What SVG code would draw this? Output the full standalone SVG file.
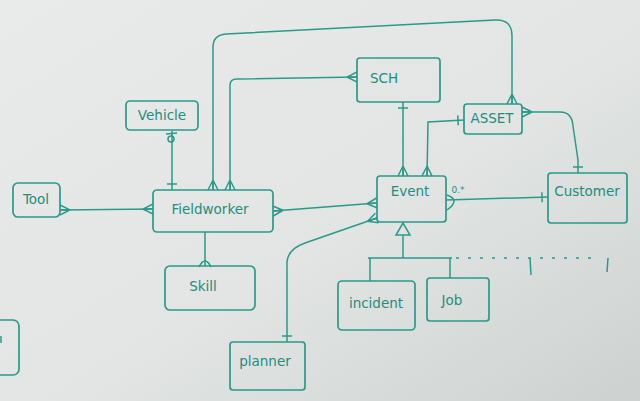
<svg xmlns="http://www.w3.org/2000/svg" width="640" height="401" viewBox="0 0 640 401">
<defs>
<linearGradient id="bg" x1="0" y1="0" x2="1" y2="1">
<stop offset="0" stop-color="#e9ebea"/>
<stop offset="0.55" stop-color="#e2e5e3"/>
<stop offset="1" stop-color="#cdd2d0"/>
</linearGradient>
<marker id="crow" viewBox="0 0 12 12" refX="11" refY="6" markerWidth="12" markerHeight="12" markerUnits="userSpaceOnUse" orient="auto-start-reverse">
<path d="M1,6 L11,1 M1,6 L11,6 M1,6 L11,11" fill="none" stroke="#2a9a8b" stroke-width="1.5"/>
</marker>
<marker id="tick" viewBox="0 0 12 12" refX="11" refY="6" markerWidth="12" markerHeight="12" markerUnits="userSpaceOnUse" orient="auto-start-reverse">
<path d="M5,1 L5,11" fill="none" stroke="#2a9a8b" stroke-width="1.5"/>
</marker>
</defs>
<style>
.box{fill:none;stroke:#2a9a8b;stroke-width:1.7}
.ln{fill:none;stroke:#2a9a8b;stroke-width:1.5}
.t{font-family:"DejaVu Sans",sans-serif;font-size:13.5px;fill:#248d7f;text-anchor:middle}
</style>
<rect width="640" height="401" fill="url(#bg)"/>

<g id="connectors">
<path class="ln" d="M60,210 L153,209" marker-start="url(#crow)" marker-end="url(#crow)"/>
<path class="ln" d="M172,131 L172,190" marker-end="url(#tick)"/>
<circle class="ln" cx="171" cy="139" r="3"/>
<path class="ln" d="M166,134 L177,133"/>
<path class="ln" d="M205,232 L205,266"/>
<path class="ln" d="M199,267 Q205,255 211,267"/>
<path class="ln" d="M213,190 L213,47 Q213,35 226,34 L495,20 Q512,19 512,36 L512,104" marker-start="url(#crow)" marker-end="url(#crow)"/>
<path class="ln" d="M230,190 L230,85 Q230,79 237,79 L357,77" marker-start="url(#crow)" marker-end="url(#crow)"/>
<path class="ln" d="M273,211 L377,203" marker-start="url(#crow)" marker-end="url(#crow)"/>
<path class="ln" d="M287,342 L287,262 Q288,249 305,243 L377,218" marker-start="url(#tick)" marker-end="url(#crow)"/>
<path class="ln" d="M403,102 L403,176" marker-start="url(#tick)" marker-end="url(#crow)"/>
<path class="ln" d="M464,120 L428,122 L427,176" marker-start="url(#tick)" marker-end="url(#crow)"/>
<path class="ln" d="M522,112 L560,112 Q572,112 573,126 L578,160 L578,173" marker-start="url(#crow)" marker-end="url(#tick)"/>
<path class="ln" d="M446,200 L548,197" marker-end="url(#tick)"/>
<path class="ln" d="M447,195 Q461,200 447,210"/>
<text class="t" x="458" y="193" style="font-size:9px">0.*</text>
<path class="ln" d="M403,223 L396,235 L410,235 Z"/>
<path class="ln" d="M403,235 L403,258 M368,258 L452,258 M370,258 L370,281 M450,258 L450,278"/>
<path class="ln" d="M456,258 L600,258" stroke-dasharray="3 9"/>
<path class="ln" d="M530,258 L531,275 M608,258 L607,272"/>
</g>

<g id="tool"><rect class="box" x="13" y="183" width="47" height="34" rx="5"/><text class="t" x="36" y="204">Tool</text></g>
<g id="vehicle"><rect class="box" x="126" y="101" width="72" height="29" rx="4"/><text class="t" x="162" y="120">Vehicle</text></g>
<g id="fieldworker"><rect class="box" x="153" y="190" width="120" height="42" rx="4"/><text class="t" x="210" y="214">Fieldworker</text></g>
<g id="skill"><rect class="box" x="165" y="266" width="90" height="44" rx="5"/><text class="t" x="203" y="291">Skill</text></g>
<g id="sch"><rect class="box" x="357" y="58" width="83" height="44" rx="3"/><text class="t" x="384" y="83">SCH</text></g>
<g id="asset"><rect class="box" x="464" y="104" width="58" height="30" rx="3"/><text class="t" x="492" y="123">ASSET</text></g>
<g id="event"><rect class="box" x="377" y="176" width="69" height="46" rx="3"/><text class="t" x="410" y="196">Event</text></g>
<g id="customer"><rect class="box" x="548" y="173" width="79" height="50" rx="3"/><text class="t" x="587" y="196">Customer</text></g>
<g id="incident"><rect class="box" x="338" y="281" width="77" height="49" rx="4"/><text class="t" x="376" y="308">incident</text></g>
<g id="job"><rect class="box" x="427" y="278" width="62" height="43" rx="3"/><text class="t" x="452" y="305">Job</text></g>
<g id="planner"><rect class="box" x="230" y="342" width="75" height="48" rx="3"/><text class="t" x="265" y="366">planner</text></g>
<g id="partial"><rect class="box" x="-10" y="320" width="29" height="55" rx="6"/><path class="ln" d="M1,336 L1,343"/></g>
</svg>
